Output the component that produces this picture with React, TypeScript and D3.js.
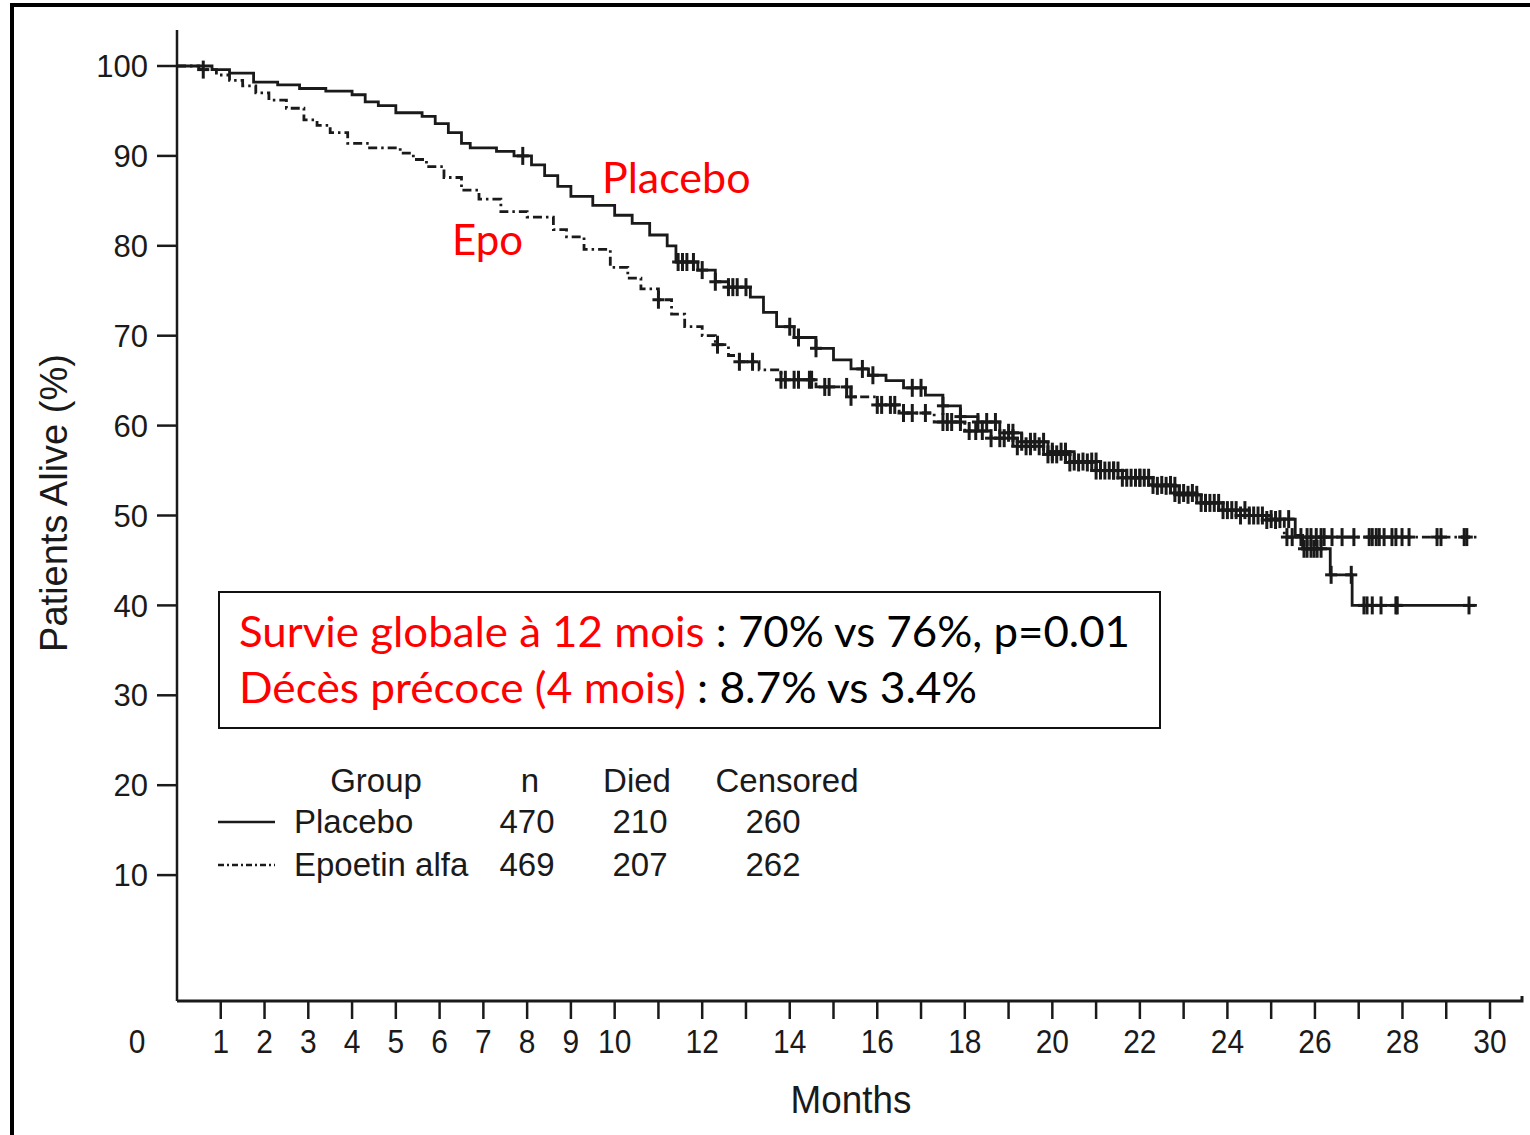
import React from 'react';
import * as d3 from 'd3';

// Kaplan-Meier steps: [months, % alive]
const placeboTimes = [0, 0.8, 1.2, 1.75, 2.3, 2.8, 3.4, 4.0, 4.3, 4.6, 5.0, 5.6, 5.9, 6.2, 6.5, 6.7, 7.3, 7.7, 8.1, 8.4, 8.7, 9.0, 9.5, 10.0, 10.4, 10.8, 11.2, 11.4, 11.9, 12.3, 12.6, 13.1, 13.4, 13.7, 14.1, 14.6, 15.0, 15.4, 15.8, 16.2, 16.6, 17.1, 17.5, 17.9, 18.3, 18.8, 19.3, 19.9, 20.5, 21.1, 21.7, 22.3, 22.9, 23.4, 23.9, 24.5, 25.0, 25.55, 25.72, 26.35, 26.85];
const placeboSurv = [100, 99.6, 99.2, 98.2, 97.9, 97.5, 97.2, 96.8, 96.0, 95.6, 94.8, 94.4, 93.6, 92.6, 91.4, 90.9, 90.5, 90.0, 89.0, 87.8, 86.6, 85.5, 84.5, 83.4, 82.5, 81.2, 80.0, 78.2, 77.3, 76.0, 75.4, 74.3, 72.6, 71.0, 69.8, 68.6, 67.3, 66.3, 65.6, 65.0, 64.2, 63.4, 62.2, 61.0, 60.4, 59.2, 58.2, 57.1, 56.0, 55.0, 54.2, 53.3, 52.3, 51.4, 50.6, 50.0, 49.6, 47.8, 46.3, 43.4, 40.0];
const placeboCensored = [7.9, 11.45, 11.55, 11.65, 11.8, 12.0, 12.3, 12.6, 12.7, 12.8, 13.0, 14.0, 14.2, 14.6, 15.66, 15.9, 16.8, 17.0, 17.5, 17.9, 18.3, 18.5, 18.7, 19.0, 19.1, 19.3, 19.5, 19.6, 19.8, 20.0, 20.2, 20.3, 20.5, 20.7, 20.9, 21.0, 21.2, 21.4, 21.5, 21.7, 21.9, 22.0, 22.2, 22.4, 22.6, 22.8, 22.9, 23.1, 23.3, 23.5, 23.6, 23.8, 24.0, 24.2, 24.4, 24.6, 24.8, 25.0, 25.2, 25.4, 25.75, 25.82, 25.91, 25.98, 26.05, 26.14, 26.37, 26.83, 27.12, 27.19, 27.31, 27.51, 27.85, 27.88, 29.52];

const epoTimes = [0, 0.5, 0.9, 1.2, 1.5, 1.8, 2.1, 2.5, 2.9, 3.2, 3.5, 3.9, 4.4, 5.1, 5.4, 5.7, 6.1, 6.5, 6.9, 7.4, 8.0, 8.6, 8.9, 9.3, 9.9, 10.3, 10.6, 11.0, 11.3, 11.6, 12.0, 12.3, 12.6, 12.85, 13.3, 13.8, 14.6, 15.4, 16.0, 16.5, 17.3, 18.0, 18.6, 19.2, 19.8, 20.4, 21.0, 21.6, 22.2, 22.8, 23.3, 23.8, 24.3, 24.9, 25.3];
const epoSurv = [100, 99.6, 99.0, 98.4, 97.8, 97.0, 96.2, 95.3, 94.0, 93.4, 92.6, 91.4, 90.9, 90.3, 89.6, 88.8, 87.6, 86.2, 85.2, 83.8, 83.2, 81.8, 81.0, 79.6, 77.6, 76.4, 75.2, 74.0, 72.4, 71.0, 70.0, 69.0, 67.8, 67.1, 66.2, 65.1, 64.3, 63.2, 62.3, 61.4, 60.4, 59.4, 58.6, 57.7, 56.8, 55.9, 55.0, 54.2, 53.4, 52.5, 51.4, 50.6, 50.0, 49.5, 47.6];
const epoCensored = [0.6, 11.0, 12.35, 12.85, 13.15, 13.8, 13.9, 14.1, 14.2, 14.45, 14.5, 14.8, 14.9, 15.3, 15.4, 16.0, 16.1, 16.3, 16.4, 16.6, 16.8, 17.1, 17.5, 17.6, 17.7, 17.9, 18.1, 18.25, 18.4, 18.6, 18.8, 18.9, 19.1, 19.2, 19.4, 19.5, 19.7, 19.9, 20.0, 20.1, 20.3, 20.4, 20.6, 20.8, 21.0, 21.1, 21.3, 21.4, 21.6, 21.8, 22.0, 22.1, 22.3, 22.5, 22.7, 22.8, 23.0, 23.2, 23.4, 23.5, 23.7, 23.9, 24.1, 24.3, 24.5, 24.7, 24.9, 25.1, 25.36, 25.48, 25.68, 25.82, 25.91, 26.03, 26.14, 26.21, 26.39, 26.62, 26.89, 27.24, 27.31, 27.40, 27.47, 27.58, 27.76, 27.85, 27.99, 28.15, 28.79, 28.88, 29.41, 29.47];

const lastFollowUp = 29.7;

const yTicks = [10, 20, 30, 40, 50, 60, 70, 80, 90, 100];
const xTickMarks = d3.range(1, 31);
const xTickLabels = [1, 2, 3, 4, 5, 6, 7, 8, 9, 10, 12, 14, 16, 18, 20, 22, 24, 26, 28, 30];

const legendHeader = ['Group', 'n', 'Died', 'Censored'];
const legendGroups = ['Placebo', 'Epoetin alfa'];
const legendN = [470, 469];
const legendDied = [210, 207];
const legendCensored = [260, 262];

const W = 1530;
const H = 1135;

const x = d3.scaleLinear().domain([0, 30]).range([177, 1490]);
const y = d3.scaleLinear().domain([0, 100]).range([965, 66]);

const axisFont = '"Liberation Sans", Arial, Helvetica, sans-serif';
const noteFont = 'Lato, "Open Sans", sans-serif';
const ink = '#1a1a1a';
const red = '#ff0000';

const stepPoints = (times: number[], surv: number[]) => {
  const pts = times.map((t, i) => [t, surv[i]] as [number, number]);
  pts.push([lastFollowUp, surv[surv.length - 1]]);
  return pts;
};

const survAt = (times: number[], surv: number[], t: number) => {
  const i = d3.bisectRight(times, t) - 1;
  return surv[Math.max(0, i)];
};

const line = d3
  .line<[number, number]>()
  .x(d => x(d[0]))
  .y(d => y(d[1]))
  .curve(d3.curveStepAfter);

const Censors = ({ times, surv, marks }: { times: number[]; surv: number[]; marks: number[] }) => (
  <g stroke={ink} strokeWidth={3}>
    {marks.map((t, i) => {
      const cx = x(t);
      const cy = y(survAt(times, surv, t));
      return (
        <g key={i}>
          <line x1={cx} x2={cx} y1={cy - 9} y2={cy + 9} />
          <line x1={cx - 6} x2={cx + 6} y1={cy} y2={cy} />
        </g>
      );
    })}
  </g>
);

export default function App() {
  const xAxisY = 1001;
  const colX = [376, 530, 637, 787];
  const rowY = [833, 876];

  return (
    <svg
      width={W}
      height={H}
      style={{ position: 'absolute', left: 0, top: 0, display: 'block', background: '#fff' }}
    >
      {/* frame */}
      <line x1={12} x2={12} y1={4} y2={H} stroke="#000" strokeWidth={4} />
      <line x1={10} x2={W} y1={5} y2={5} stroke="#000" strokeWidth={4} />

      {/* y axis */}
      <path d={`M177,30 L177,${xAxisY}`} stroke={ink} strokeWidth={2.5} fill="none" />
      {yTicks.map(v => (
        <g key={v}>
          <line x1={157} x2={177} y1={y(v)} y2={y(v)} stroke={ink} strokeWidth={2.5} />
          <text
            x={148}
            y={y(v)}
            dy="0.36em"
            textAnchor="end"
            fontFamily={axisFont}
            fontSize={31}
            fill={ink}
          >
            {v}
          </text>
        </g>
      ))}
      <text
        transform={`translate(67,503) rotate(-90)`}
        textAnchor="middle"
        fontFamily={axisFont}
        fontSize={38}
        fill={ink}
      >
        Patients Alive (%)
      </text>

      {/* x axis */}
      <path d={`M177,${xAxisY} L1522,${xAxisY} L1522,${xAxisY - 5}`} stroke={ink} strokeWidth={3} fill="none" />
      {xTickMarks.map(m => (
        <line key={m} x1={x(m)} x2={x(m)} y1={xAxisY} y2={xAxisY + 18} stroke={ink} strokeWidth={2.5} />
      ))}
      {xTickLabels.map(m => (
        <text
          key={m}
          transform={`translate(${x(m)},1053) scale(0.88,1)`}
          textAnchor="middle"
          fontFamily={axisFont}
          fontSize={34}
          fill={ink}
        >
          {m}
        </text>
      ))}
      <text
        transform={`translate(137,1053) scale(0.88,1)`}
        textAnchor="middle"
        fontFamily={axisFont}
        fontSize={34}
        fill={ink}
      >
        0
      </text>
      <text
        transform={`translate(851,1113) scale(0.97,1)`}
        textAnchor="middle"
        fontFamily={axisFont}
        fontSize={38}
        fill={ink}
      >
        Months
      </text>

      {/* survival curves */}
      <path d={line(stepPoints(placeboTimes, placeboSurv)) || ''} fill="none" stroke={ink} strokeWidth={2.8} />
      <path
        d={line(stepPoints(epoTimes, epoSurv)) || ''}
        fill="none"
        stroke={ink}
        strokeWidth={2.8}
        strokeDasharray="9,4,2.5,4"
      />
      <Censors times={placeboTimes} surv={placeboSurv} marks={placeboCensored} />
      <Censors times={epoTimes} surv={epoSurv} marks={epoCensored} />

      {/* red curve labels */}
      <text x={602} y={193} fontFamily={noteFont} fontSize={43} fill={red}>
        Placebo
      </text>
      <text x={452} y={255} fontFamily={noteFont} fontSize={42} fill={red}>
        Epo
      </text>

      {/* summary box */}
      <rect x={219} y={592} width={941} height={136} fill="#fff" stroke="#111" strokeWidth={2} />
      <text x={239} y={647} fontFamily={noteFont} fontSize={42} textLength={891} lengthAdjust="spacingAndGlyphs">
        <tspan fill={red}>Survie globale à 12 mois</tspan>
        <tspan fill="#000"> : 70% vs 76%, p=0.01</tspan>
      </text>
      <text x={239} y={703} fontFamily={noteFont} fontSize={42} textLength={738} lengthAdjust="spacingAndGlyphs">
        <tspan fill={red}>Décès précoce (4 mois)</tspan>
        <tspan fill="#000"> : 8.7% vs 3.4%</tspan>
      </text>

      {/* legend table */}
      <g fontFamily={axisFont} fontSize={33} fill={ink}>
        {legendHeader.map((h, i) => (
          <text key={h} x={colX[i]} y={792} textAnchor="middle">
            {h}
          </text>
        ))}
        {legendGroups.map((g, i) => (
          <g key={g}>
            <line
              x1={218}
              x2={275}
              y1={rowY[i] - 11}
              y2={rowY[i] - 11}
              stroke={ink}
              strokeWidth={2.6}
              strokeDasharray={i === 1 ? '6,3,2,3' : undefined}
            />
            <text x={294} y={rowY[i]}>
              {g}
            </text>
            <text x={527} y={rowY[i]} textAnchor="middle">
              {legendN[i]}
            </text>
            <text x={640} y={rowY[i]} textAnchor="middle">
              {legendDied[i]}
            </text>
            <text x={773} y={rowY[i]} textAnchor="middle">
              {legendCensored[i]}
            </text>
          </g>
        ))}
      </g>
    </svg>
  );
}
